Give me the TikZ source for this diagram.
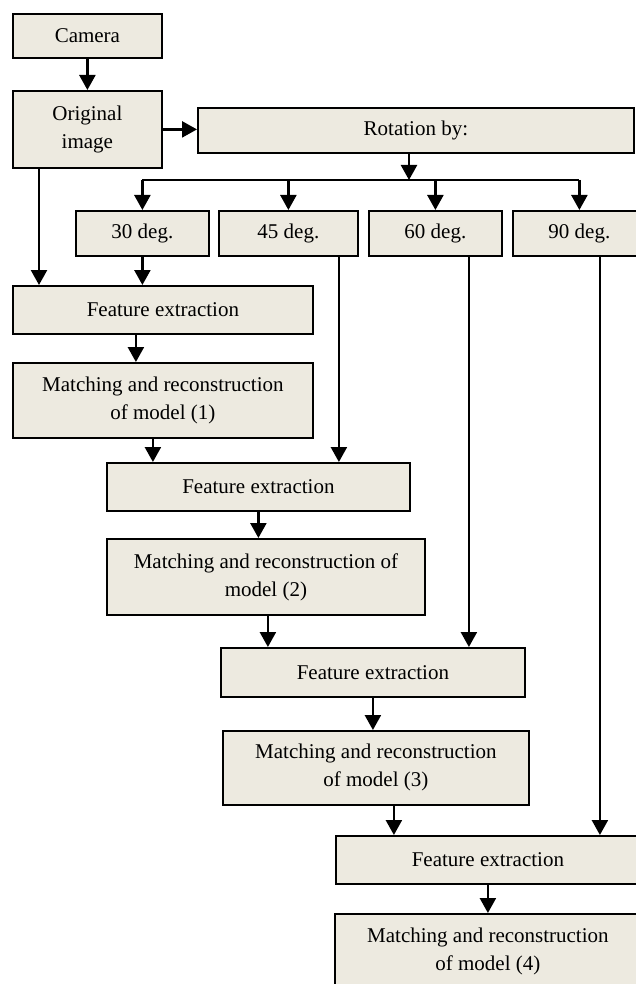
\documentclass[tikz,border=0pt]{standalone}
\usepackage{fontspec}
\setmainfont{Liberation Serif}
\usepackage{tikz}
\usetikzlibrary{arrows.meta}
\definecolor{boxfill}{RGB}{237,234,224}
\tikzset{
	stepbox/.style  = {shape=rectangle, draw, line width=1.8pt,
		fill=boxfill, align=center, inner sep=0pt, anchor=north west},
	degbox/.style   = {stepbox, minimum width=133pt, minimum height=45pt},
	flow/.style     = {draw, line width=2.4pt, -{Triangle[length=15pt,width=16pt]}},
	branch/.style   = {draw, line width=1.4pt}
}
\begin{document}
\begin{tikzpicture}
[
x                 = 1pt,
y                 = -1pt,
every node/.style = {font=\fontsize{21}{28}\selectfont}
]
\useasboundingbox (0,0) rectangle (635,984);
% inputs
\node [stepbox, minimum width=149pt, minimum height=44pt] (cam)  at (12,13)  {Camera};
\node [stepbox, minimum width=149pt, minimum height=77pt] (orig) at (12,90)  {Original\\image};
\node [stepbox, minimum width=436pt, minimum height=45pt] (rot)  at (197,107) {Rotation by:};
% angles
\node [degbox] (d30) at (75,210)  {30 deg.};
\node [degbox, minimum width=139pt] (d45) at (218,210) {45 deg.};
\node [degbox] (d60) at (368,210) {60 deg.};
\node [degbox] (d90) at (512,210) {90 deg.};
% stages
\node [stepbox, minimum width=300pt, minimum height=48pt] (fe1) at (12,285)  {Feature extraction};
\node [stepbox, minimum width=300pt, minimum height=75pt] (m1)  at (12,362)  {Matching and reconstruction\\of model (1)};
\node [stepbox, minimum width=303pt, minimum height=48pt] (fe2) at (106,462) {Feature extraction};
\node [stepbox, minimum width=318pt, minimum height=76pt] (m2)  at (106,538) {Matching and reconstruction of\\model (2)};
\node [stepbox, minimum width=304pt, minimum height=49pt] (fe3) at (220,647) {Feature extraction};
\node [stepbox, minimum width=306pt, minimum height=74pt] (m3)  at (222,730) {Matching and reconstruction\\of model (3)};
\node [stepbox, minimum width=304pt, minimum height=48pt] (fe4) at (335,835) {Feature extraction};
\node [stepbox, minimum width=306pt, minimum height=75pt] (m4)  at (334,913) {Matching and reconstruction\\of model (4)};
\coordinate (split) at (409,180);
% connectors
\draw [flow] (cam.south) -- (orig.north);
\draw [flow] (orig.east) -- (orig.east -| rot.west);
\draw [flow] (split |- rot.south) -- (split);
\draw [branch] (d30.north |- split) -- (d90.north |- split);
\foreach \d in {d30,d45,d60,d90}
	\draw [flow] (\d.north |- split) -- (\d.north);
\draw [flow] ([xshift=27pt]orig.south west) -- ([xshift=27pt]orig.south west |- fe1.north);
\draw [flow] (d30.south) -- (d30.south |- fe1.north);
\draw [flow] ([xshift=-27pt]fe1.south) -- ([xshift=-27pt]fe1.south |- m1.north);
\draw [flow] ([xshift=-10pt]m1.south) -- ([xshift=-10pt]m1.south |- fe2.north);
\draw [flow] ([xshift=50.5pt]d45.south) -- ([xshift=50.5pt]d45.south |- fe2.north);
\draw [flow] (fe2.south) -- (fe2.south |- m2.north);
\draw [flow] ([xshift=2pt]m2.south) -- ([xshift=2pt]m2.south |- fe3.north);
\draw [flow] ([xshift=33.5pt]d60.south) -- ([xshift=33.5pt]d60.south |- fe3.north);
\draw [flow] (fe3.south) -- (fe3.south |- m3.north);
\draw [flow] ([xshift=18pt]m3.south) -- ([xshift=18pt]m3.south |- fe4.north);
\draw [flow] ([xshift=20.5pt]d90.south) -- ([xshift=20.5pt]d90.south |- fe4.north);
\draw [flow] (fe4.south) -- (fe4.south |- m4.north);
\end{tikzpicture}
\end{document}
